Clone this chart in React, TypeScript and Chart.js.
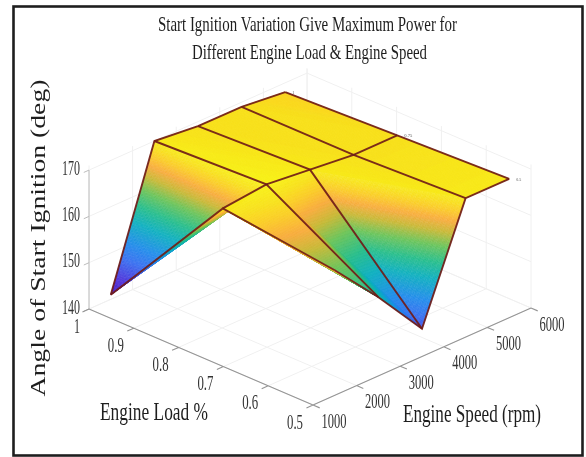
import React, { useEffect, useRef } from "react";
import { Chart, registerables } from "chart.js";

Chart.register(...registerables);

const titleLines = ["Start Ignition Variation Give Maximum Power for", "Different Engine Load & Engine Speed"];
const zAxisTitle = "Angle of Start Ignition (deg)";
const loadAxisTitle = "Engine Load %";
const speedAxisTitle = "Engine Speed (rpm)";

const loads = [1, 0.75, 0.5];
const speeds = [1500, 2500, 3500, 4500, 5500];
const angleAtLoad100 = [141, 170, 169, 169, 168];
const angleAtLoad75 = [170, 171, 170, 169, 169];
const angleAtLoad50 = [167, 157, 146, 170, 170];
const angles = [angleAtLoad100, angleAtLoad75, angleAtLoad50];

const loadTicks = [1, 0.9, 0.8, 0.7, 0.6, 0.5];
const speedTicks = [1000, 2000, 3000, 4000, 5000, 6000];
const angleTicks = [140, 150, 160, 170];
const zTop = 171;

const colorStops: [number, number[]][] = [
  [141, [70, 20, 190]],
  [144, [80, 50, 216]],
  [148, [58, 112, 240]],
  [151, [35, 140, 235]],
  [155, [16, 176, 192]],
  [158, [40, 190, 140]],
  [161, [110, 196, 90]],
  [163.5, [200, 185, 55]],
  [165.5, [248, 172, 62]],
  [167.5, [250, 205, 40]],
  [169, [248, 224, 30]],
  [171, [248, 242, 28]],
];

function colorFor(z: number) {
  let a = colorStops[0], b = colorStops[colorStops.length - 1];
  if (z <= a[0]) return `rgb(${a[1].join(",")})`;
  for (let i = 0; i < colorStops.length - 1; i++) {
    if (z >= colorStops[i][0] && z <= colorStops[i + 1][0]) {
      a = colorStops[i];
      b = colorStops[i + 1];
      break;
    }
  }
  const t = (z - a[0]) / (b[0] - a[0] || 1);
  const c = a[1].map((v, i) => Math.round(v + (b[1][i] - v) * t));
  return `rgb(${c.join(",")})`;
}

// Oblique view of (load, speed, angle) on the chart's x / y scales
function project(load: number, speed: number, z: number) {
  return {
    x: 89 + (1 - load) * 448 + (speed - 1000) * 0.0436,
    y: 309 + (1 - load) * 192 - (speed - 1000) * 0.0194 - (z - 140) * 4.63,
  };
}

const GAP = { x: NaN, y: NaN };

type Seg = [number, number, number, number, number, number];

function segments(list: Seg[]) {
  const pts: { x: number; y: number }[] = [];
  list.forEach(([l0, s0, z0, l1, s1, z1]) => {
    pts.push(project(l0, s0, z0), project(l1, s1, z1), GAP);
  });
  return pts;
}

const gridSegs: Seg[] = [];
loadTicks.forEach((l) => {
  gridSegs.push([l, 1000, 140, l, 6000, 140]);
  gridSegs.push([l, 6000, 140, l, 6000, zTop]);
});
speedTicks.forEach((s) => {
  gridSegs.push([1, s, 140, 0.5, s, 140]);
  gridSegs.push([1, s, 140, 1, s, zTop]);
});
angleTicks.forEach((z) => {
  gridSegs.push([1, 1000, z, 1, 6000, z]);
  gridSegs.push([1, 6000, z, 0.5, 6000, z]);
});

const axisSegs: Seg[] = [
  [1, 1000, 140, 0.5, 1000, 140],
  [0.5, 1000, 140, 0.5, 6000, 140],
];
loadTicks.forEach((l) => axisSegs.push([l, 1000, 140, l, 850, 140]));
speedTicks.forEach((s) => axisSegs.push([0.5, s, 140, 0.485, s, 140]));

const zAxisSegs: Seg[] = [[1, 1000, 140, 1, 1000, 170]];
angleTicks.forEach((z) => zAxisSegs.push([1, 1000, z, 1, 880, z]));

const surfacePoints = loads.flatMap((l, i) =>
  speeds.map((s, j) => ({ ...project(l, s, angles[i][j]), load: l, speed: s, z: angles[i][j] }))
);

const WIRE = "rgba(112,28,24,0.92)";

function lineDataset(label: string, data: any[], color: string, width: number) {
  return {
    label,
    data,
    showLine: true,
    borderColor: color,
    borderWidth: width,
    pointRadius: 0,
    fill: false,
    tension: 0,
    spanGaps: false,
  };
}

const wireDatasets = [
  ...loads.map((l, i) =>
    lineDataset(`wire load ${l}`, speeds.map((s, j) => project(l, s, angles[i][j])), WIRE, 1.9)
  ),
  ...speeds.map((s, j) =>
    lineDataset(`wire speed ${s}`, loads.map((l, i) => project(l, s, angles[i][j])), WIRE, 1.9)
  ),
];

const surfaceDataset = {
  label: "surface",
  data: surfacePoints,
  showLine: false,
  pointRadius: 0,
};

const STEPS = 64;

type V = { x: number; y: number; z: number };

function paintTriangle(ctx: CanvasRenderingContext2D, a: V, b: V, c: V) {
  const mix = (u: number, v: number): V => {
    const w = 1 - u - v;
    return {
      x: a.x * w + b.x * u + c.x * v,
      y: a.y * w + b.y * u + c.y * v,
      z: a.z * w + b.z * u + c.z * v,
    };
  };
  const cell = (p: V, q: V, r: V) => {
    const col = colorFor((p.z + q.z + r.z) / 3);
    ctx.fillStyle = col;
    ctx.strokeStyle = col;
    ctx.beginPath();
    ctx.moveTo(p.x, p.y);
    ctx.lineTo(q.x, q.y);
    ctx.lineTo(r.x, r.y);
    ctx.closePath();
    ctx.fill();
    ctx.stroke();
  };
  for (let i = 0; i < STEPS; i++) {
    for (let j = 0; j < STEPS - i; j++) {
      const p = mix(i / STEPS, j / STEPS);
      const q = mix((i + 1) / STEPS, j / STEPS);
      const r = mix(i / STEPS, (j + 1) / STEPS);
      cell(p, q, r);
      if (i + j < STEPS - 1) cell(q, mix((i + 1) / STEPS, (j + 1) / STEPS), r);
    }
  }
}

const surfacePlugin = {
  id: "surface",
  afterDatasetDraw(chart: any, args: any) {
    if (chart.data.datasets[args.index].label !== "surface") return;
    const { ctx, scales } = chart;
    const vertex = (i: number, j: number): V => {
      const p = project(loads[i], speeds[j], angles[i][j]);
      return { x: scales.x.getPixelForValue(p.x), y: scales.y.getPixelForValue(p.y), z: angles[i][j] };
    };
    ctx.save();
    ctx.lineWidth = 0.4;
    // back to front: high load first, high speed first; each cell is split along one diagonal
    for (let i = 0; i < loads.length - 1; i++) {
      for (let j = speeds.length - 2; j >= 0; j--) {
        paintTriangle(ctx, vertex(i, j), vertex(i, j + 1), vertex(i + 1, j + 1));
        paintTriangle(ctx, vertex(i, j), vertex(i + 1, j), vertex(i + 1, j + 1));
      }
    }
    ctx.restore();
  },
};

function put(
  ctx: CanvasRenderingContext2D,
  text: string,
  x: number,
  y: number,
  font: string,
  width: number,
  color: string,
  rotation = 0,
  align: "center" | "left" = "center"
) {
  ctx.save();
  ctx.font = font;
  ctx.fillStyle = color;
  ctx.textBaseline = "middle";
  ctx.textAlign = align;
  const natural = ctx.measureText(text).width;
  ctx.translate(x, y);
  ctx.rotate(rotation);
  ctx.scale(width / natural, 1);
  ctx.fillText(text, 0, 0);
  ctx.restore();
}

const SERIF = '"Liberation Serif"';

const textPlugin = {
  id: "texts",
  afterDraw(chart: any) {
    const { ctx, scales } = chart;
    const X = (v: number) => scales.x.getPixelForValue(v);
    const Y = (v: number) => scales.y.getPixelForValue(v);
    const ink = "#1e1e1e";
    const tick = "#333333";
    const titleFont = `22px ${SERIF}`;
    put(ctx, titleLines[0], X(307.5), Y(25), titleFont, 299, ink);
    put(ctx, titleLines[1], X(309.5), Y(53), titleFont, 235, ink);
    put(ctx, zAxisTitle, X(39), Y(238), `21px ${SERIF}`, 317, ink, -Math.PI / 2);
    put(ctx, loadAxisTitle, X(154), Y(413), `25px ${SERIF}`, 108, ink);
    put(ctx, speedAxisTitle, X(472), Y(415), `25px ${SERIF}`, 138, ink);
    const tickFont = `21px ${SERIF}`;
    angleTicks.forEach((z) => {
      const p = project(1, 1000, z);
      put(ctx, String(z), X(p.x - 18), Y(p.y - 1), tickFont, 18, tick);
    });
    loadTicks.forEach((l) => {
      const p = project(l, 1000, 140);
      put(ctx, String(l), X(p.x - (l === 1 ? 12 : 18)), Y(p.y + 18), tickFont, l === 1 ? 6 : 16, tick);
    });
    speedTicks.forEach((s) => {
      const p = project(0.5, s, 140);
      put(ctx, String(s), X(p.x + 21), Y(p.y + 17), tickFont, 25, tick);
    });
    loads.forEach((l, i) => {
      const p = project(l, speeds[speeds.length - 1], angles[i][speeds.length - 1]);
      put(ctx, String(l), X(p.x + 7), Y(p.y + 0.5), `5px ${SERIF}`, l === 1 ? 2 : l === 0.5 ? 5 : 8, "#555", 0, "left");
    });
    ctx.save();
    ctx.strokeStyle = "#1e1e1e";
    ctx.lineWidth = 2.6;
    ctx.strokeRect(X(13.5), Y(6.5), X(569), Y(449));
    ctx.restore();
  },
};

export default function App() {
  const ref = useRef<HTMLCanvasElement>(null);
  useEffect(() => {
    const chart = new Chart(ref.current as HTMLCanvasElement, {
      type: "scatter",
      data: {
        // the highest index is painted first
        datasets: [
          ...wireDatasets,
          surfaceDataset,
          lineDataset("axes", segments(axisSegs), "#959595", 1.1),
          lineDataset("angle axis", segments(zAxisSegs), "#bcbcbc", 1),
          lineDataset("grid", segments(gridSegs), "#f0f0f0", 1),
        ] as any,
      },
      options: {
        animation: false,
        responsive: false,
        maintainAspectRatio: false,
        layout: { padding: 0 },
        plugins: { legend: { display: false }, tooltip: { enabled: false }, title: { display: false } },
        scales: {
          x: { type: "linear", min: 0, max: 586, display: false },
          y: { type: "linear", min: 0, max: 457, reverse: true, display: false },
        },
      },
      plugins: [surfacePlugin, textPlugin],
    });
    return () => chart.destroy();
  }, []);
  return (
    <div style={{ position: "absolute", left: 0, top: 0, width: 586, height: 457, background: "#fff" }}>
      <canvas ref={ref} width={586} height={457} style={{ display: "block", filter: "blur(0.5px)" }} />
    </div>
  );
}
